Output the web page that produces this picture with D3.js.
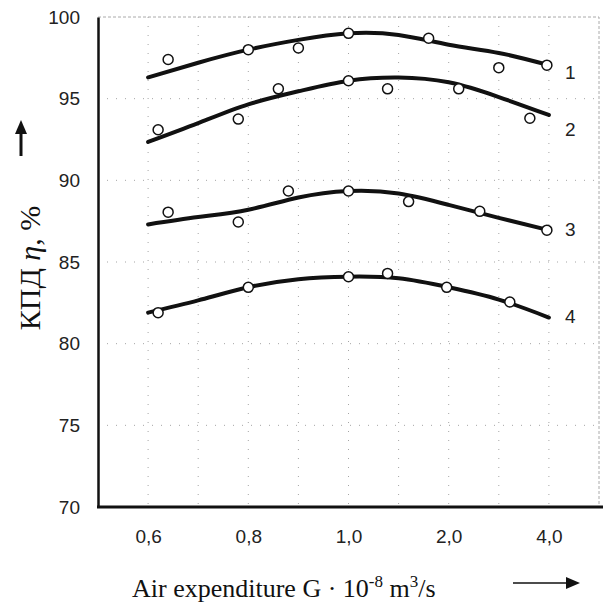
<!DOCTYPE html>
<html>
<head>
<meta charset="utf-8">
<script src="https://cdn.jsdelivr.net/npm/d3@7"></script>
<style>
  html, body { margin: 0; padding: 0; background: #fff; }
  svg { display: block; }
</style>
</head>
<body>
<div id="chart"></div>
<script>
// Air expenditure categories (evenly spaced on the axis) and efficiency ticks
const xTicks = [0.6, 0.8, 1.0, 2.0, 4.0];
const xTickLabels = ["0,6", "0,8", "1,0", "2,0", "4,0"];
const xGrid = [0.7, 0.9, 1.5, 3.0];
const yTicks = [70, 75, 80, 85, 90, 95, 100];

// fitted curves
const fitX = [0.6, 0.7, 0.8, 0.9, 1.0, 1.5, 2.0, 3.0, 4.0];
const fit1 = [96.3, 97.2, 98.0, 98.6, 99.0, 98.9, 98.3, 97.8, 97.05];
const fit2 = [92.35, 93.5, 94.65, 95.45, 96.1, 96.3, 96.0, 95.1, 94.0];
const fit3 = [87.3, 87.75, 88.2, 88.95, 89.35, 89.2, 88.5, 87.7, 86.95];
const fit4 = [81.9, 82.65, 83.45, 83.95, 84.1, 84.0, 83.45, 82.7, 81.6];

// measured points
const pts1X = [0.64, 0.8, 0.9, 1.0, 1.8, 3.0, 3.96];
const pts1Y = [97.4, 98.0, 98.1, 99.0, 98.7, 96.9, 97.05];
const pts2X = [0.62, 0.78, 0.86, 1.0, 1.39, 2.2, 3.62];
const pts2Y = [93.1, 93.75, 95.6, 96.1, 95.6, 95.6, 93.8];
const pts3X = [0.64, 0.78, 0.88, 1.0, 1.6, 2.62, 3.96];
const pts3Y = [88.05, 87.45, 89.35, 89.35, 88.7, 88.1, 86.95];
const pts4X = [0.62, 0.8, 1.0, 1.39, 1.98, 3.22];
const pts4Y = [81.9, 83.45, 84.1, 84.3, 83.45, 82.55];

const curveNames = ["1", "2", "3", "4"];
const curveLabelY = [96.6, 93.1, 87.0, 81.7];

const series = [
  { fit: fit1, px: pts1X, py: pts1Y },
  { fit: fit2, px: pts2X, py: pts2Y },
  { fit: fit3, px: pts3X, py: pts3Y },
  { fit: fit4, px: pts4X, py: pts4Y },
];

const W = 603, H = 606;
const pL = 98, pR = 599, pT = 17, pB = 507;
const step = (pR - pL) / 5;

// piecewise scale: the labelled values sit at equal steps
const xDomain = [0.5, ...xTicks, 5.0];
const xRange = [pL, ...xTicks.map((d, i) => pL + step * (i + 0.5)), pR];
const x = d3.scaleLinear().domain(xDomain).range(xRange);
const y = d3.scaleLinear().domain([70, 100]).range([pB, pT]);

const svg = d3.select("#chart").append("svg")
  .attr("width", W).attr("height", H);

// dotted grid
const grid = svg.append("g").attr("stroke", "#a5a5a5").attr("stroke-width", 1)
  .attr("stroke-dasharray", "1 8");
grid.selectAll("line.v").data([...xTicks, ...xGrid]).join("line").attr("class", "v")
  .attr("x1", d => x(d)).attr("x2", d => x(d)).attr("y1", pT).attr("y2", pB);
grid.selectAll("line.h").data(yTicks.slice(1, -1)).join("line").attr("class", "h")
  .attr("x1", pL).attr("x2", pR).attr("y1", d => y(d)).attr("y2", d => y(d));
// light frame top / right
svg.append("path").attr("d", `M${pL},${pT}H${pR}V${pB}`)
  .attr("fill", "none").attr("stroke", "#aaa").attr("stroke-width", 1)
  .attr("stroke-dasharray", "3 2");

// axes
const yAxis = svg.append("g").attr("transform", `translate(${pL},0)`)
  .call(d3.axisLeft(y).tickValues(yTicks).tickSize(0).tickPadding(18));
yAxis.select(".domain").attr("stroke", "#111").attr("stroke-width", 2.5);
yAxis.selectAll("text").attr("font-family", "Liberation Sans, Arial, sans-serif")
  .attr("font-size", 19).attr("fill", "#222");

const xAxis = svg.append("g").attr("transform", `translate(0,${pB})`)
  .call(d3.axisBottom(x).tickValues(xTicks).tickSize(0).tickPadding(23)
    .tickFormat((d, i) => xTickLabels[i]));
xAxis.select(".domain").remove();
xAxis.selectAll("text").attr("font-family", "Liberation Sans, Arial, sans-serif")
  .attr("font-size", 19).attr("fill", "#222");
svg.append("line").attr("x1", pL - 1).attr("x2", W).attr("y1", pB).attr("y2", pB)
  .attr("stroke", "#111").attr("stroke-width", 3);

// curves
const line = d3.line().curve(d3.curveNatural)
  .x((d, i) => x(fitX[i])).y(d => y(d));
series.forEach((s, k) => {
  svg.append("path").attr("d", line(s.fit))
    .attr("fill", "none").attr("stroke", "#111").attr("stroke-width", 4)
    .attr("stroke-linecap", "round");
  svg.append("g").selectAll("circle").data(s.px).join("circle")
    .attr("cx", d => x(d)).attr("cy", (d, i) => y(s.py[i])).attr("r", 5)
    .attr("fill", "#fff").attr("stroke", "#111").attr("stroke-width", 1.5);
  svg.append("text").attr("x", x(4.0) + 16).attr("y", y(curveLabelY[k]))
    .attr("dy", "0.35em").attr("font-family", "Liberation Sans, Arial, sans-serif")
    .attr("font-size", 19).attr("fill", "#222").text(curveNames[k]);
});

// y label with up arrow
const yl = svg.append("text").attr("transform", "translate(40,268) rotate(-90)")
  .attr("text-anchor", "middle").attr("font-family", "Liberation Serif, Times New Roman, serif")
  .attr("font-size", 30).attr("fill", "#111");
yl.append("tspan").text("КПД ");
yl.append("tspan").attr("font-style", "italic").text("η");
yl.append("tspan").text(", %");

svg.append("line").attr("x1", 21).attr("x2", 21).attr("y1", 156).attr("y2", 132)
  .attr("stroke", "#111").attr("stroke-width", 3);
svg.append("path").attr("d", "M21,120 L15,134 L27,134 Z").attr("fill", "#111");

// x label with right arrow
const xl = svg.append("text").attr("x", 132).attr("y", 597)
  .attr("font-family", "Liberation Serif, Times New Roman, serif")
  .attr("font-size", 26).attr("fill", "#111");
xl.append("tspan").text("Air expenditure G \u00b7 10");
xl.append("tspan").attr("dy", -10).attr("font-size", 17).text("-8");
xl.append("tspan").attr("dy", 10).text(" m");
xl.append("tspan").attr("dy", -10).attr("font-size", 17).text("3");
xl.append("tspan").attr("dy", 10).text("/s");

svg.append("line").attr("x1", 513).attr("x2", 568).attr("y1", 583).attr("y2", 583)
  .attr("stroke", "#111").attr("stroke-width", 1.5);
svg.append("path").attr("d", "M580,583 L566,577 L566,589 Z").attr("fill", "#111");
</script>
</body>
</html>
